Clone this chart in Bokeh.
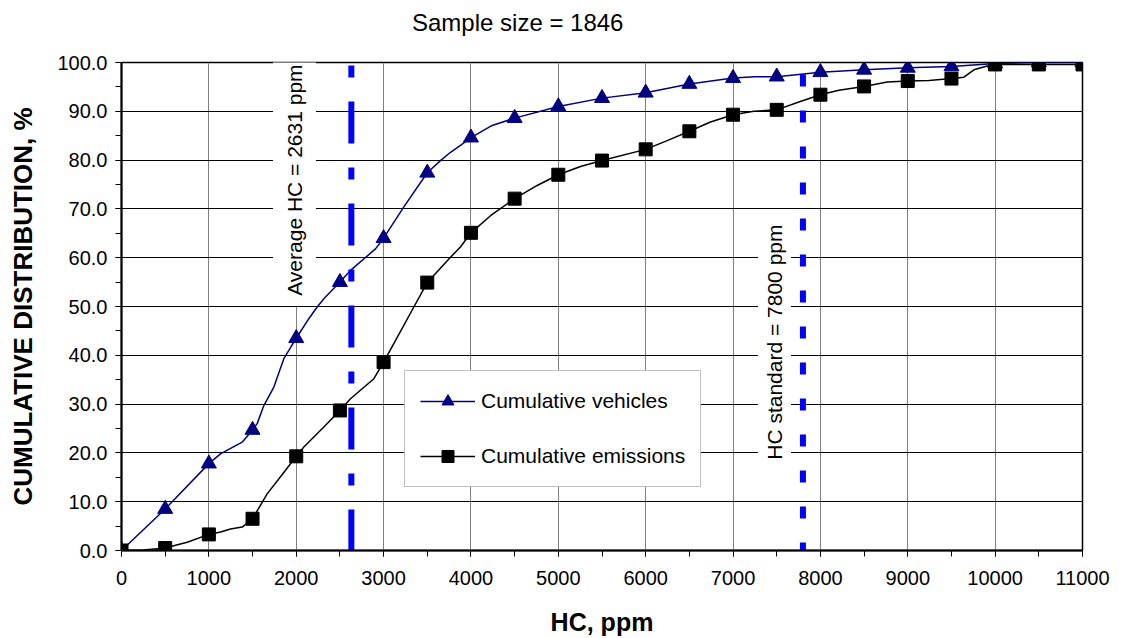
from math import pi

from bokeh.embed import file_html
from bokeh.layouts import column
from bokeh.models import (ColumnDataSource, Div, Label, Legend, LegendItem, PrintfTickFormatter,
                          Range1d, SingleIntervalTicker)
from bokeh.plotting import figure
from bokeh.resources import INLINE

# ---- data -------------------------------------------------------------
# marker positions (every 500 ppm)
hc_marks = [0, 500, 1000, 1500, 2000, 2500, 3000, 3500, 4000, 4500, 5000, 5500,
            6000, 6500, 7000, 7500, 8000, 8500, 9000, 9500, 10000, 10500, 11000]
vehicles_marks = [0.0, 8.5, 17.8, 24.7, 43.5, 55.0, 64.0, 77.4, 84.6, 88.6, 91.0, 92.7,
                  93.8, 95.6, 96.8, 97.1, 98.0, 98.5, 98.9, 99.2, 99.8, 100.0, 100.0]
emissions_marks = [0.0, 0.5, 3.3, 6.5, 19.3, 28.7, 38.6, 54.9, 65.1, 72.1, 77.0, 79.9,
                   82.2, 85.9, 89.3, 90.3, 93.4, 95.1, 96.2, 96.7, 99.6, 99.6, 99.6]

# finer curve through the full distribution
vehicles_hc = [0, 500, 1000, 1133, 1381, 1500, 1553, 1629, 1744, 1858, 2000, 2144, 2240,
               2316, 2500, 2621, 2907, 3000, 3232, 3500, 3651, 3766, 3880, 4000, 4243,
               4500, 5000, 5500, 6000, 6500, 7000, 7250, 7500, 8000, 8500, 9000, 9500,
               10000, 10500, 11000]
vehicles_pct = [0.0, 8.5, 17.8, 19.8, 22.2, 24.7, 26.0, 29.7, 33.5, 39.3, 43.5, 47.5, 49.9,
                51.6, 55.0, 57.4, 61.8, 64.0, 70.4, 77.4, 79.9, 81.6, 83.0, 84.6, 87.1,
                88.6, 91.0, 92.7, 93.8, 95.6, 96.8, 97.1, 97.1, 98.0, 98.5, 98.9, 99.2,
                99.8, 100.0, 100.0]

emissions_hc = [0, 250, 500, 752, 1000, 1133, 1248, 1381, 1500, 1667, 1858, 2000, 2087,
                2316, 2500, 2621, 2889, 3000, 3117, 3346, 3500, 3766, 3880, 4000, 4224,
                4500, 4758, 5000, 5254, 5500, 6000, 6246, 6500, 6742, 7000, 7238, 7500,
                7753, 8000, 8211, 8500, 8765, 9000, 9243, 9500, 9642, 9757, 9909, 10000,
                10500, 11000]
emissions_pct = [0.0, 0.1, 0.5, 1.7, 3.3, 3.8, 4.4, 4.8, 6.5, 11.6, 16.0, 19.3, 21.2,
                 25.3, 28.7, 31.1, 35.2, 38.6, 42.4, 49.9, 54.9, 60.1, 62.2, 65.1, 68.6,
                 72.1, 74.8, 77.0, 78.7, 79.9, 82.2, 84.0, 85.9, 87.8, 89.3, 90.0, 90.3,
                 91.9, 93.4, 94.3, 95.1, 96.0, 96.2, 96.3, 96.7, 97.0, 98.5, 99.3, 99.6,
                 99.6, 99.6]

average_hc = 2631
hc_standard = 7800
sample_size = 1846
x_min, x_max = 0, 11000
y_min, y_max = 0, 100

FONT = "Liberation Sans"
NAVY = "#000080"
BLUE = "#0000FF"

# ---- heading ----------------------------------------------------------
heading = Div(text=f"Sample size = {sample_size}", width=1121, height=40,
              styles={"font-family": FONT, "font-size": "24px", "color": "black",
                      "padding-left": "412px", "padding-top": "9px",
                      "line-height": "normal", "margin": "0"})

# ---- figure -----------------------------------------------------------
p = figure(width=1121, height=598, output_backend="svg", toolbar_location=None,
           x_range=Range1d(x_min, x_max), y_range=Range1d(y_min, y_max),
           min_border_left=121, min_border_right=39, min_border_top=22,
           min_border_bottom=88, background_fill_color="white",
           border_fill_color="white")

p.outline_line_color = "black"
p.outline_line_width = 1.5
p.outline_line_alpha = 1

# axes
p.xaxis.ticker = SingleIntervalTicker(interval=1000, num_minor_ticks=2)
p.yaxis.ticker = SingleIntervalTicker(interval=10, num_minor_ticks=2)
p.yaxis.formatter = PrintfTickFormatter(format="%.1f")
p.xaxis.axis_label = "HC, ppm"
p.yaxis.axis_label = "CUMULATIVE DISTRIBUTION, %"
for ax in (p.xaxis, p.yaxis):
    ax.axis_line_color = "black"
    ax.axis_line_width = 2
    ax.major_tick_line_color = "black"
    ax.minor_tick_line_color = "black"
    ax.major_tick_out = 6
    ax.major_tick_in = 0
    ax.minor_tick_out = 6
    ax.minor_tick_in = 0
    ax.major_label_text_font = FONT
    ax.major_label_text_font_size = "20px"
    ax.major_label_text_color = "black"
    ax.axis_label_text_font = FONT
    ax.axis_label_text_font_style = "bold"
    ax.axis_label_text_color = "black"
p.xaxis.axis_label_text_font_size = "25px"
p.yaxis.axis_label_text_font_size = "26px"
p.xaxis.major_label_standoff = 14
p.xaxis.axis_label_standoff = 20
p.yaxis.major_label_standoff = 8
p.yaxis.axis_label_standoff = 16

# grid
p.xgrid.grid_line_color = "#808080"
p.xgrid.grid_line_width = 1
p.ygrid.grid_line_color = "black"
p.ygrid.grid_line_width = 1

# ---- curves -----------------------------------------------------------
veh_line = p.line(vehicles_hc, vehicles_pct, line_color=NAVY, line_width=1.5)
emi_line = p.line(emissions_hc, emissions_pct, line_color="black", line_width=1.5)

# reference lines
p.line([average_hc, average_hc], [y_max, y_min], line_color=BLUE, line_width=6,
       line_dash="12 24 42 24", line_dash_offset=-3)
p.line([hc_standard, hc_standard], [y_max, y_min], line_color=BLUE, line_width=6,
       line_dash="12 24", line_dash_offset=-12)

marks = ColumnDataSource(dict(hc=hc_marks, veh=vehicles_marks, emi=emissions_marks))
veh_pts = p.scatter("hc", "veh", source=marks, marker="triangle", size=15,
                    fill_color=NAVY, line_color=NAVY)
emi_pts = p.scatter("hc", "emi", source=marks, marker="square", size=13,
                    fill_color="black", line_color="black")

# ---- annotations ------------------------------------------------------
p.add_layout(Label(x=1980, y=75.9, text=f"Average HC = {average_hc} ppm", angle=pi / 2,
                   text_align="center", text_baseline="middle", text_font=FONT,
                   text_font_size="21px", text_color="black",
                   background_fill_color="white", padding=10))
p.add_layout(Label(x=7475, y=42.7, text=f"HC standard = {hc_standard} ppm", angle=pi / 2,
                   text_align="center", text_baseline="middle", text_font=FONT,
                   text_font_size="21px", text_color="black",
                   background_fill_color="white", padding=5))

legend = Legend(items=[LegendItem(label="Cumulative vehicles", renderers=[veh_line, veh_pts]),
                       LegendItem(label="Cumulative emissions", renderers=[emi_line, emi_pts])],
                location=(283, 63), padding=15, spacing=25, label_height=30,
                glyph_height=30, glyph_width=55, label_standoff=6, margin=0,
                border_line_color="#808080", border_line_width=1.5,
                background_fill_color="white", background_fill_alpha=1,
                label_text_font=FONT, label_text_font_size="21px",
                label_text_color="black")
p.add_layout(legend)

page = column(heading, p, spacing=0)
open("out.html", "w").write(file_html(page, INLINE))
